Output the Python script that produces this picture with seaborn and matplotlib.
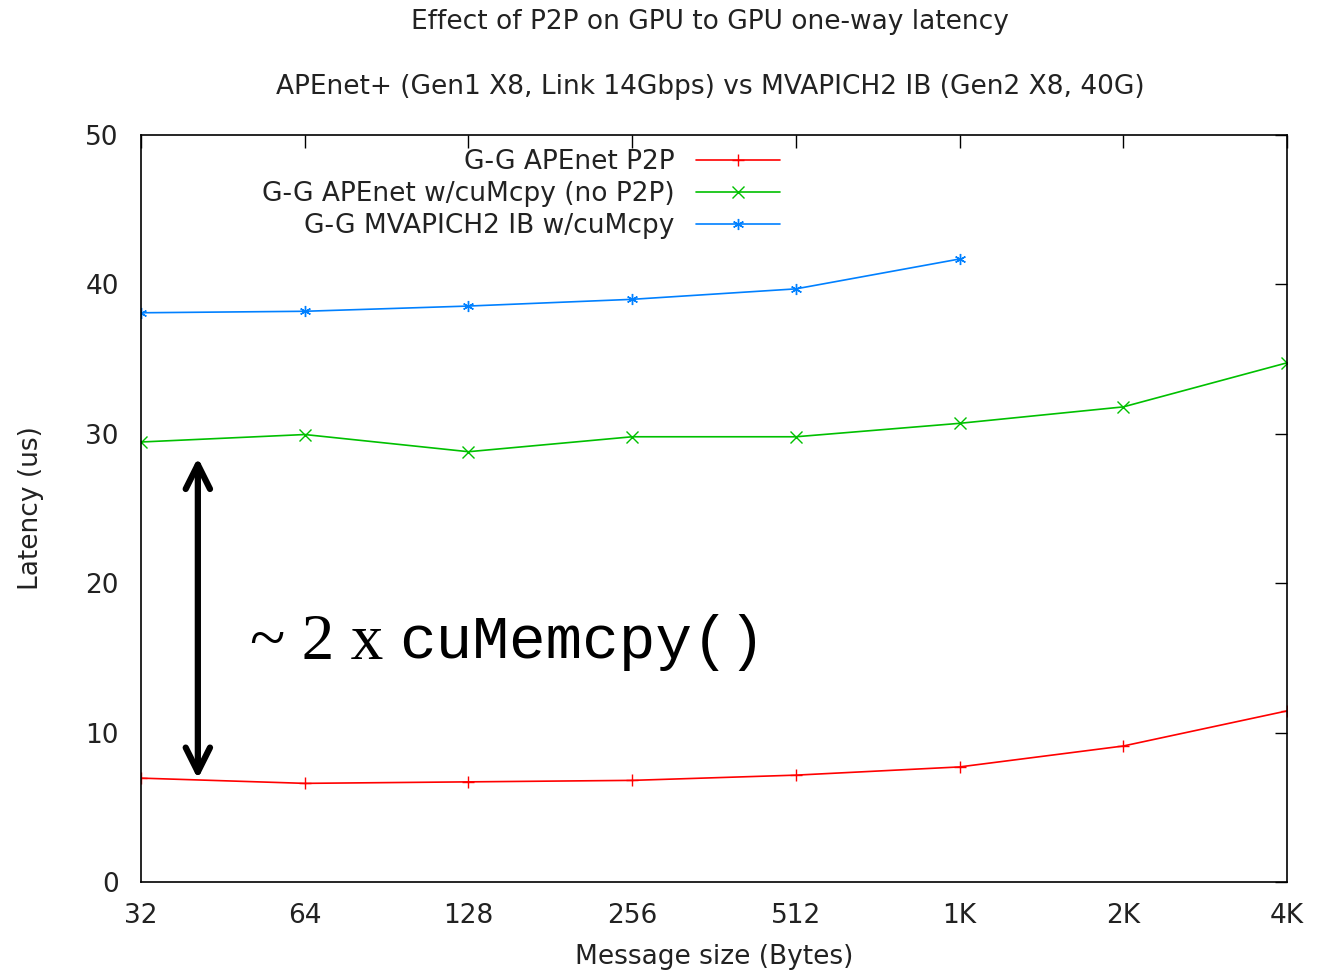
import seaborn as sns
import matplotlib.pyplot as plt
import pandas as pd

sns.set_theme(style="white")
plt.rcParams['font.family'] = ['DejaVu Sans']

sizes = [32, 64, 128, 256, 512, 1024, 2048, 4096]
size_labels = ['32', '64', '128', '256', '512', '1K', '2K', '4K']

p2p = [6.95, 6.6, 6.7, 6.8, 7.15, 7.7, 9.1, 11.45]
no_p2p = [29.45, 29.95, 28.8, 29.8, 29.8, 30.7, 31.8, 34.75]
mvapich = [38.1, 38.2, 38.55, 39.0, 39.7, 41.7]

names = ['G-G APEnet P2P', 'G-G APEnet w/cuMcpy (no P2P)', 'G-G MVAPICH2 IB w/cuMcpy']
colors = ['#ff0000', '#00c000', '#0080ff']
markers = ['+', 'x', (6, 2, 0)]

frames = []
for name, vals in zip(names, [p2p, no_p2p, mvapich]):
    frames.append(pd.DataFrame({'size': sizes[:len(vals)], 'latency': vals, 'series': name}))
df = pd.concat(frames, ignore_index=True)

fig = plt.figure(figsize=(13.17, 9.74), dpi=100)
ax = fig.add_axes([0.1071, 0.0945, 0.8701, 0.7669])

sns.lineplot(data=df, x='size', y='latency', hue='series', style='series',
             palette=dict(zip(names, colors)), markers=dict(zip(names, markers)),
             dashes=False, markersize=8, markeredgewidth=1.0, linewidth=1.2, ax=ax)
for line in ax.lines:
    line.set_markeredgecolor(line.get_color())

ax.set_xscale('log', base=2)
ax.set_xlim(32, 4096)
ax.set_ylim(0, 50)
ax.set_xticks(sizes)
ax.set_xticklabels(size_labels)
ax.minorticks_off()
ax.set_yticks([0, 10, 20, 30, 40, 50])
ax.tick_params(direction='in', length=9, width=1, colors='black', labelsize=19,
               top=True, right=True, labelcolor='#222222')
ax.tick_params(axis='x', pad=15)
ax.tick_params(axis='y', pad=16)
for s in ax.spines.values():
    s.set_color('black')
    s.set_linewidth(1.2)

ax.set_xlabel('Message size (Bytes)', fontsize=19, color='#222222', labelpad=11)
ax.set_ylabel('Latency (us)', fontsize=19, color='#222222', labelpad=30)

fig.text(0.539, 0.977, 'Effect of P2P on GPU to GPU one-way latency',
         ha='center', va='center', fontsize=19, color='#222222')
fig.text(0.539, 0.911, 'APEnet+ (Gen1 X8, Link 14Gbps) vs MVAPICH2 IB (Gen2 X8, 40G)',
         ha='center', va='center', fontsize=19, color='#222222')

leg = ax.legend(loc='upper right', bbox_to_anchor=(0.5576, 0.981), frameon=False,
                markerfirst=False, fontsize=19, handlelength=3.2, labelspacing=0.23,
                borderaxespad=0.0, handletextpad=0.8, borderpad=0.0)
for t in leg.get_texts():
    t.set_color('#222222')
for h in leg.legend_handles:
    h.set_markeredgecolor(h.get_color())

ax.annotate('', xy=(40.7, 6.9), xytext=(40.7, 28.4),
            arrowprops=dict(arrowstyle='<->, head_length=0.7, head_width=0.35',
                            color='black', lw=4.5, mutation_scale=25,
                            shrinkA=0, shrinkB=0))
ax.text(50.8, 16.0, '~ 2 x', family='Liberation Serif', fontsize=47,
        ha='left', va='center', color='black')
ax.text(95.5, 16.0, 'cuMemcpy()', family='Liberation Mono', fontsize=44,
        ha='left', va='center', color='black')

fig.savefig('out.png', dpi=100)
